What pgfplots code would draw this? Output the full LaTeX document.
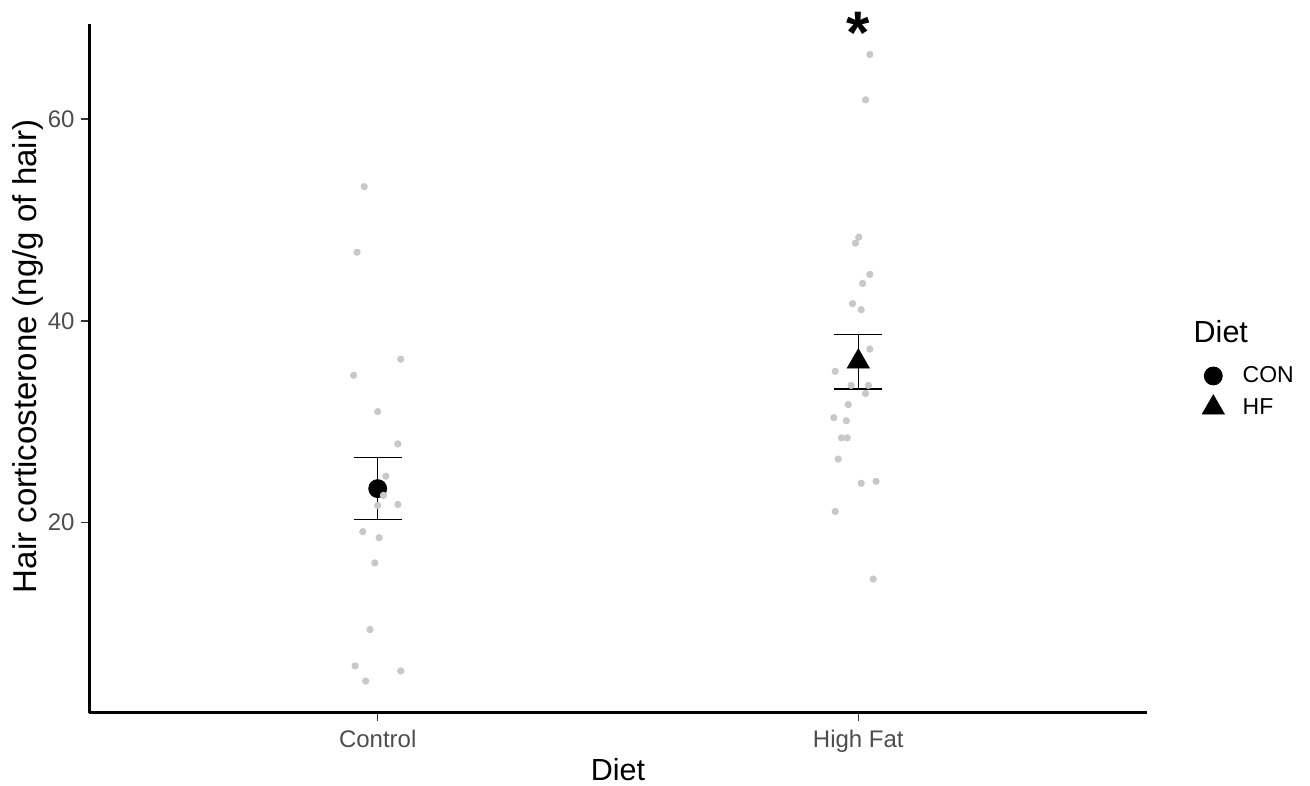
\documentclass[border=0pt]{standalone}
\usepackage{pgfplots}
\pgfplotsset{compat=1.18}
\usepackage{fontspec}
\setmainfont{Liberation Sans}
\definecolor{ptgrey}{RGB}{200,200,200}
\definecolor{tickgrey}{RGB}{77,77,77}
\begin{document}
\begin{tikzpicture}
\path[use as bounding box] (-44.65pt,-36.65pt) rectangle (610.35pt,356.35pt);
\begin{axis}[
  at={(0pt,0pt)}, anchor=south west,
  scale only axis, width=528.7pt, height=344.2pt,
  xmin=0.4, xmax=2.6, ymin=1.16, ymax=69.39,
  clip=false,
  axis x line*=bottom, axis y line*=left,
  x axis line style={-, line width=1.4pt, black},
  y axis line style={-, line width=1.4pt, black},
  xtick={1,2}, xticklabels={Control, High Fat},
  ytick={20,40,60},
  tick align=outside, major tick length=4.3pt,
  tick style={line width=0.8pt, color={rgb,255:red,51;green,51;blue,51}},
  /pgf/number format/assume math mode=true,
  xticklabel style={font=\fontsize{12}{14}\selectfont, text=tickgrey, anchor=north, inner sep=0pt, yshift=-4.4pt},
  yticklabel style={font=\fontsize{12}{14}\selectfont, text=tickgrey, anchor=east, inner sep=0pt, xshift=-2.85pt},
  xlabel={Diet},
  xlabel style={at={(axis description cs:0.5,-0.0992)}, anchor=base, font=\fontsize{15.25}{17}\selectfont, inner sep=0pt},
  ylabel={Hair corticosterone (ng/g of hair)},
  ylabel style={at={(axis description cs:-0.0495,0.5174)}, anchor=base, rotate=0, font=\fontsize{16.5}{18}\selectfont, inner sep=0pt},
  legend image code/.code={\path[draw=none,fill=none] (0pt,-7.93pt) rectangle (20pt,7.93pt); \draw[#1] plot coordinates {(10pt,0pt)};},
  legend style={at={(axis description cs:1.04406,0.5122)}, anchor=north west, draw=none, fill=none,
    inner sep=0pt, outer sep=0pt, row sep=0pt, column sep=4.7pt,
    font=\fontsize{11.5}{13}\selectfont, nodes={inner sep=0pt, anchor=west}},
]
% error bars (mean +- SE), drawn as lines from the values
\addplot[black, line width=0.8pt, forget plot] coordinates {(1,20.30) (1,26.44)};
\addplot[black, line width=0.8pt, forget plot] coordinates {(0.95,26.44) (1.05,26.44)};
\addplot[black, line width=0.8pt, forget plot] coordinates {(0.95,20.30) (1.05,20.30)};
\addplot[black, line width=0.8pt, forget plot] coordinates {(2,33.25) (2,38.65)};
\addplot[black, line width=0.8pt, forget plot] coordinates {(1.95,38.65) (2.05,38.65)};
\addplot[black, line width=0.8pt, forget plot] coordinates {(1.95,33.25) (2.05,33.25)};
% means
\addplot[black, only marks, mark=*, mark size=4.5pt] coordinates {(1,23.37)};
\addlegendentry{CON}
\addplot[black, only marks, mark=triangle*, mark size=6.35pt] coordinates {(2,35.95)};
\addlegendentry{HF}
% individual jittered observations
\addplot[only marks, mark=*, mark size=1.6pt, color=ptgrey, forget plot] table {
x y
0.972 53.3
0.957 46.8
1.048 36.2
0.950 34.6
1.000 31.0
1.042 27.8
1.017 24.6
1.012 22.7
1.000 21.7
1.042 21.8
0.969 19.1
1.003 18.5
0.994 16.0
0.984 9.4
0.953 5.8
1.048 5.3
0.975 4.3
2.024 66.4
2.015 61.9
2.001 48.3
1.994 47.7
2.024 44.6
2.009 43.7
1.988 41.7
2.006 41.1
2.024 37.2
1.952 35.0
1.985 33.6
2.021 33.6
2.015 32.8
1.979 31.7
1.949 30.4
1.975 30.1
1.965 28.4
1.977 28.4
1.958 26.3
2.006 23.9
2.037 24.1
1.952 21.1
2.031 14.4
};
\node[anchor=base, font=\fontsize{30}{32}\selectfont\bfseries, inner sep=0pt] at (axis cs:2,66.5) {*};
\node[anchor=west, font=\fontsize{15.25}{17}\selectfont, inner sep=0pt] at (axis description cs:1.04406,0.55346) {Diet};
\end{axis}
\end{tikzpicture}
\end{document}
